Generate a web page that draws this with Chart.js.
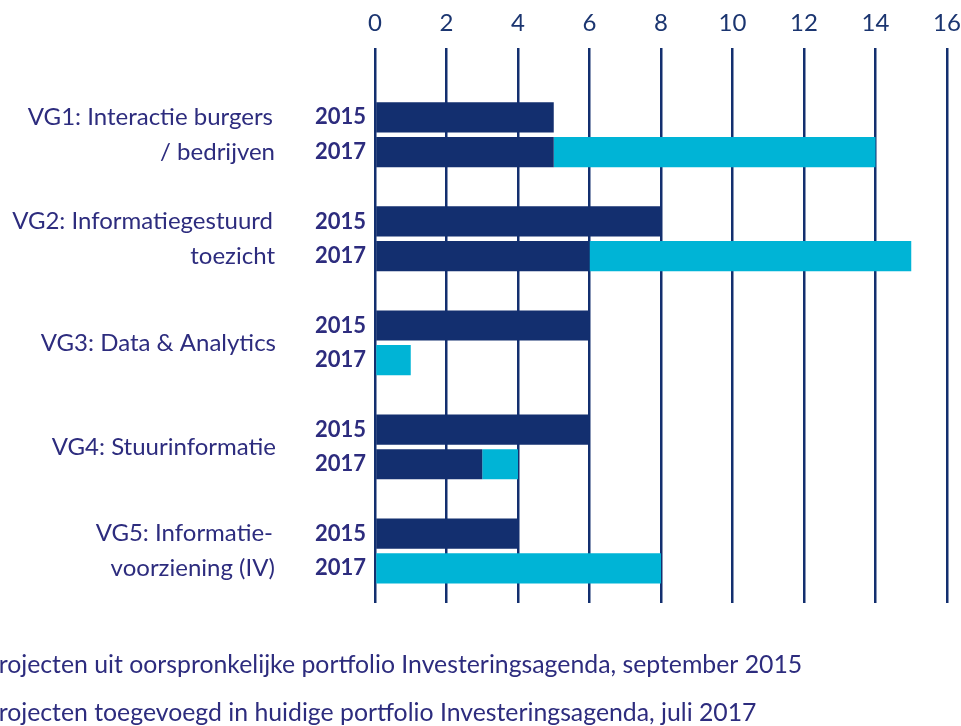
<!DOCTYPE html>
<html><head><meta charset="utf-8">
<script src="https://cdn.jsdelivr.net/npm/chart.js@4/dist/chart.umd.min.js"></script>
<style>html,body{margin:0;padding:0;background:#fff;overflow:hidden}#wrap{width:961px;height:726px;position:relative}</style>
</head><body><div id="wrap"><canvas id="c" width="961" height="726"></canvas></div>
<script>
const groups = [['VG1: Interactie burgers','/ bedrijven'],['VG2: Informatiegestuurd','toezicht'],['VG3: Data & Analytics'],['VG4: Stuurinformatie'],['VG5: Informatie-','voorziening (IV)']];
const years = ['2015','2017'];
const original2015 = [5,8,6,6,4];
const original2017 = [5,6,0,3,0];
const added2017 = [9,9,1,1,8];
const legendLabels = ['Projecten uit oorspronkelijke portfolio Investeringsagenda, september 2015','Projecten toegevoegd in huidige portfolio Investeringsagenda, juli 2017'];

const NAVY = '#132f6f', CYAN = '#00b4d6', TEXT = '#2d2c7e', TICK = '#1b3570';
const FONT = 'Lato';

// rows: two spacer rows, then per group: 2015, 2017, spacer
const rows = ['', ''], origData = [null, null], addData = [null, null];
groups.forEach((g, i) => {
  rows.push(years[0], years[1], '');
  origData.push(original2015[i], original2017[i], null);
  addData.push(null, added2017[i], null);
});

const groupLabelPlugin = {
  id: 'groupLabels',
  afterDraw(chart) {
    const ctx = chart.ctx, ys = chart.scales.y;
    ctx.save();
    ctx.fillStyle = TEXT;
    ctx.font = '24px ' + FONT;
    ctx.textAlign = 'right';
    ctx.textBaseline = 'middle';
    groups.forEach((g, i) => {
      const y1 = ys.getPixelForValue(2 + 3 * i), y2 = ys.getPixelForValue(3 + 3 * i);
      if (g.length === 2) { ctx.fillText(g[0], 273, y1); ctx.fillText(g[1], 275, y2); }
      else ctx.fillText(g[0], 276, (y1 + y2) / 2);
    });
    // legend text (cut off at left as in the reference)
    ctx.font = '24.8px ' + FONT;
    ctx.textAlign = 'left';
    chart.data.datasets.forEach((ds, i) => {
      ctx.fillText(ds.label, -16, 665 + i * 48);
    });
    ctx.restore();
  }
};

new Chart(document.getElementById('c'), {
  type: 'bar',
  data: {
    labels: rows,
    datasets: [
      { label: legendLabels[0], data: origData, backgroundColor: NAVY, barPercentage: 0.87, categoryPercentage: 1 },
      { label: legendLabels[1], data: addData, backgroundColor: CYAN, barPercentage: 0.87, categoryPercentage: 1 }
    ]
  },
  options: {
    indexAxis: 'y',
    responsive: false,
    animation: false,
    layout: { padding: { left: 0, right: 0, top: 0, bottom: 123 } },
    plugins: { legend: { display: false }, tooltip: { enabled: false } },
    scales: {
      x: {
        position: 'top', stacked: true, min: 0, max: 16,
        ticks: { stepSize: 2, color: TICK, font: { family: FONT, size: 24 }, padding: 10 },
        grid: { color: NAVY, lineWidth: 2.5, drawTicks: false },
        border: { display: false },
        afterFit(s) { s.height = 48; s.paddingRight = 14; s.paddingLeft = 0; }
      },
      y: {
        stacked: true, offset: false,
        ticks: { autoSkip: false, color: TEXT, font: { family: FONT, size: 22, weight: 'bold' }, padding: 9 },
        grid: { display: false, drawTicks: false },
        border: { display: false },
        afterFit(s) { s.width = 375; }
      }
    }
  },
  plugins: [groupLabelPlugin]
});
</script></body></html>
